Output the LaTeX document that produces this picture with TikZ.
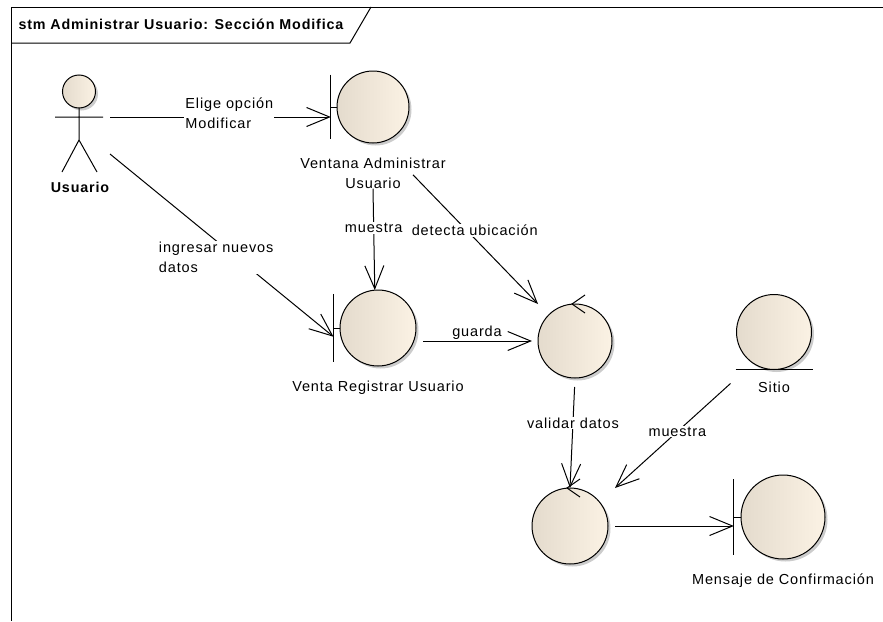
\documentclass[tikz,border=0pt]{standalone}
\usepackage{fontspec}
\newfontfamily\eafont{Liberation Sans}[LetterSpace=6]
\usetikzlibrary{arrows.meta}
\definecolor{robleft}{HTML}{E4DBCD}
\definecolor{robright}{HTML}{FBF2E4}
\tikzset{%
robust/.style={draw,left color=robleft,right color=robright},
robshadow/.style={fill=black!20},
bbox/.style={inner sep=0pt,outer sep=0pt},
lbl/.style={font=\eafont\fontsize{14.5}{20}\selectfont,inner sep=1pt,fill=white},
pics/.cd,
actor/.style args={#1#2}{
  code={\node[bbox,minimum width=55pt,minimum height=74pt] (#2) at (3.5,0) {};
       \fill[robshadow] (2.5,-23) circle (16.5pt);
       \draw[robust] (0,-25.5) circle (16.5pt);
       \draw (0,-9)--(0,23) (-24,0)--(24,0) (-17,55)--(0,23)--(18,55);
       \node[lbl,font=\eafont\bfseries\fontsize{14.3}{18}\selectfont] (#2-lbl) at (1,70) {#1};
  }
},
%pics/.cd,
boundary/.style args={#1#2#3}{
  code={\node[bbox,minimum width=2.17*#1pt,minimum height=2*#1pt] (#3) at ({-0.085*#1},0) {};
       \fill[robshadow] (2.5,2.5) circle (#1pt);
       \draw[robust] (0,0) circle (#1pt);
       \draw ({-1.17*#1},{-0.9*#1})--({-1.17*#1},{0.9*#1}) ({-1.17*#1},0)--({-#1},0);
       \node[lbl,fill=none,inner sep=0pt,anchor=north,align=center] (#3-lbl) at (0,{#1+14}) {#2};
  }
},
%pics/.cd,
control/.style args={#1#2}{
  code={\node[bbox,minimum width=2*#1pt,minimum height=2*#1pt] (#2) {};
       \fill[robshadow] (2.5,2.5) circle (#1pt);
       \draw[robust] (0,0) circle (#1pt);
       \draw (10,{-#1-9})--(-3,{-#1})--(10,{-#1+9});
  }
},
%pics/.cd,
entity/.style args={#1#2#3}{
  code={\node[bbox,minimum width=2*#1pt,minimum height=2*#1pt] (#3) {};
       \fill[robshadow] (2.5,2.5) circle (#1pt);
       \draw[robust] (0,0) circle (#1pt);
       \draw ({-#1-1},#1)--({#1+1},#1);
       \node[lbl,fill=none,inner sep=0pt,anchor=north] (#3-lbl) at (0,{#1+12}) {#2};
  }
},
}

\begin{document}
\begin{tikzpicture}[x=1pt,y=-1pt,line width=1pt,
  msg/.style={-{Straight Barb[length=23pt,width=19pt]}}]
    \useasboundingbox (0,0) rectangle (883,621);
    % frame
    \draw (883,7) -- (11,7) -- (11,621);
    \draw (11,43) -- (350,43) -- (371,7);
    \node[lbl,fill=none,anchor=west,font=\eafont\bfseries\fontsize{14.3}{18}\selectfont] (title) at (17,24) {stm Administrar Usuario: Sección Modifica};
    % elements
    \pic at (79,117) {actor={Usuario}{usr}};
    \pic at (373,107) {boundary={36}{Ventana Administrar\\Usuario}{vadm}};
    \pic at (378,328) {boundary={38}{Venta Registrar Usuario}{vreg}};
    \pic at (575,341) {control={37}{ctrl}};
    \pic at (570,526) {control={38}{valid}};
    \pic at (774,332) {entity={37.5}{Sitio}{sitio}};
    \pic at (783,517) {boundary={42}{Mensaje de Confirmación}{mconf}};
    % messages
    \draw[msg] (usr.east) -- node[lbl,pos=0.54,yshift=4pt,align=left]{Elige opción\\Modificar} (usr.east -| vadm.west);
    \draw[msg] (usr.south east) -- node[lbl,pos=0.475,anchor=north,align=left]{ingresar nuevos\\datos} (vreg.192);
    \draw[msg] (vadm-lbl.south) -- node[lbl,pos=0.39]{muestra} (vreg.north);
    \draw[msg] ([shift={(40,2)}]vadm-lbl.center) -- node[lbl,pos=0.43,xshift=8pt]{detecta ubicación} (ctrl.north west);
    \draw[msg,shorten <=7pt,shorten >=6pt] (vreg.east |- ctrl.west) -- node[lbl,above,fill=none]{guarda} (ctrl.west);
    \draw[msg,shorten <=9pt] (ctrl.south) -- node[lbl,pos=0.41]{validar datos} (valid.north);
    \draw[msg] ([shift={(-6,14)}]sitio.south west) -- node[lbl,pos=0.46]{muestra} ([xshift=7pt]valid.north east);
    \draw[msg,shorten <=7pt] (valid.east) -- (valid.east -| mconf.west);
\end{tikzpicture}
\end{document}
